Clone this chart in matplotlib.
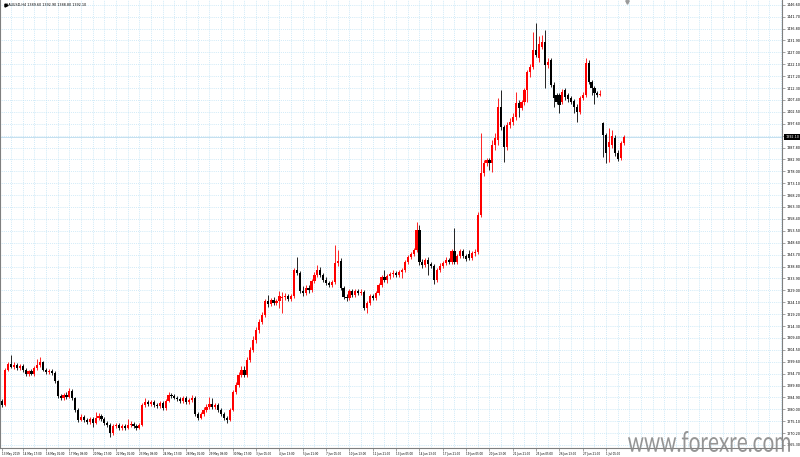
import matplotlib
matplotlib.use("Agg")
import matplotlib.pyplot as plt
import matplotlib.transforms as mtransforms
from matplotlib.textpath import TextPath
from matplotlib.patches import PathPatch
from matplotlib.font_manager import FontProperties
import numpy as np

# XAUUSD H4, 13 May 13:00 .. 2 Jul 05:00 (server time)
opens = [
    1283.4, 1281.8, 1296.2, 1298.6, 1297.4, 1298.2, 1297.0, 1297.8, 1296.2, 1294.5,
    1295.7, 1294.5, 1297.0, 1298.2, 1299.4, 1296.2, 1295.3, 1295.7, 1294.9, 1291.6,
    1285.4, 1284.6, 1285.9, 1285.0, 1287.5, 1284.6, 1279.7, 1275.6, 1276.8, 1275.6,
    1274.7, 1276.0, 1274.3, 1276.4, 1277.2, 1276.0, 1274.3, 1273.5, 1270.2, 1273.1,
    1273.5, 1272.3, 1273.1, 1272.3, 1273.5, 1273.9, 1273.1, 1272.3, 1273.5, 1281.8,
    1283.0, 1282.2, 1283.0, 1281.8, 1281.4, 1282.6, 1280.5, 1283.4, 1285.9, 1285.4,
    1284.6, 1284.2, 1283.4, 1284.6, 1283.0, 1283.8, 1284.6, 1278.0, 1276.4, 1278.0,
    1279.7, 1280.9, 1282.1, 1280.9, 1281.7, 1279.7, 1278.0, 1276.4, 1275.6, 1279.7,
    1287.1, 1290.0, 1294.1, 1296.1, 1294.1, 1300.3, 1304.4, 1308.5, 1312.6, 1315.9,
    1318.8, 1324.5, 1323.3, 1325.0, 1323.7, 1324.5, 1325.8, 1326.2, 1326.6, 1325.4,
    1326.6, 1337.3, 1336.1, 1328.7, 1327.8, 1329.9, 1329.1, 1332.8, 1335.3, 1337.3,
    1335.3, 1333.2, 1332.0, 1331.1, 1332.4, 1340.2, 1341.0, 1329.9, 1326.2, 1325.8,
    1328.7, 1327.0, 1328.7, 1327.8, 1328.3, 1321.7, 1323.7, 1326.6, 1325.8, 1327.8,
    1331.1, 1334.4, 1333.2, 1334.8, 1335.7, 1336.1, 1335.3, 1336.5, 1337.3, 1340.6,
    1342.7, 1343.9, 1345.6, 1353.8, 1340.6, 1339.4, 1341.4, 1339.8, 1339.0, 1333.2,
    1337.3, 1339.0, 1340.2, 1341.4, 1340.6, 1345.2, 1340.6, 1343.1, 1345.2, 1343.1,
    1343.9, 1342.3, 1344.3, 1344.7, 1360.0, 1377.3, 1381.4, 1382.6, 1381.4, 1388.8,
    1390.9, 1404.4, 1396.2, 1388.0, 1397.0, 1398.3, 1400.3, 1406.1, 1404.0, 1406.5,
    1411.4, 1418.9, 1420.9, 1427.9, 1424.6, 1429.2, 1431.2, 1421.7, 1423.8, 1413.5,
    1409.4, 1409.4, 1406.5, 1411.4, 1409.4, 1408.1, 1406.9, 1404.4, 1402.4, 1408.1,
    1409.4, 1422.6, 1414.7, 1412.3, 1410.2, 1409.4, 1397.9, 1392.9, 1388.0, 1388.8,
    1391.7, 1385.5, 1383.4, 1389.6,
]
highs = [
    1284.2, 1297.0, 1299.4, 1302.3, 1299.4, 1299.0, 1298.6, 1298.6, 1297.0, 1296.2,
    1296.6, 1297.8, 1300.7, 1301.5, 1299.9, 1297.0, 1296.6, 1296.6, 1295.7, 1292.0,
    1286.3, 1286.7, 1287.1, 1288.8, 1288.3, 1285.0, 1280.5, 1278.0, 1277.6, 1276.4,
    1276.8, 1276.8, 1278.9, 1278.5, 1278.0, 1276.8, 1275.1, 1274.3, 1273.9, 1274.3,
    1274.3, 1273.9, 1273.9, 1276.0, 1275.1, 1274.7, 1273.9, 1274.3, 1282.6, 1284.6,
    1283.8, 1283.8, 1283.8, 1282.6, 1283.4, 1283.4, 1284.2, 1287.1, 1286.7, 1286.3,
    1285.4, 1285.0, 1285.4, 1285.4, 1284.6, 1285.9, 1285.4, 1278.9, 1278.9, 1280.9,
    1282.1, 1285.0, 1284.6, 1282.5, 1282.5, 1280.5, 1278.9, 1277.2, 1280.5, 1287.9,
    1291.2, 1295.3, 1297.8, 1297.8, 1301.5, 1305.6, 1310.1, 1313.8, 1317.1, 1320.0,
    1325.4, 1327.0, 1325.8, 1326.2, 1325.4, 1328.7, 1328.3, 1327.9, 1327.4, 1327.4,
    1338.1, 1342.7, 1336.9, 1330.7, 1331.1, 1331.1, 1333.6, 1336.5, 1339.4, 1338.5,
    1336.1, 1334.4, 1332.8, 1333.2, 1347.6, 1345.6, 1342.3, 1330.7, 1327.4, 1329.5,
    1329.5, 1329.5, 1329.5, 1329.5, 1329.1, 1324.5, 1327.4, 1327.4, 1328.7, 1332.0,
    1335.3, 1337.3, 1335.7, 1336.5, 1337.3, 1336.9, 1337.3, 1338.1, 1341.4, 1343.5,
    1344.7, 1346.4, 1357.1, 1355.9, 1341.8, 1342.3, 1342.7, 1340.6, 1339.8, 1338.1,
    1340.2, 1341.0, 1342.7, 1342.3, 1346.0, 1354.6, 1343.9, 1346.0, 1346.0, 1343.9,
    1345.6, 1345.2, 1346.0, 1361.2, 1393.7, 1382.6, 1383.5, 1383.5, 1390.9, 1393.7,
    1408.2, 1411.4, 1397.0, 1398.3, 1399.9, 1402.0, 1410.6, 1407.3, 1407.3, 1412.3,
    1419.7, 1422.1, 1435.3, 1439.0, 1433.7, 1434.1, 1436.1, 1424.6, 1424.6, 1414.7,
    1410.2, 1410.2, 1411.9, 1412.3, 1410.2, 1409.0, 1407.7, 1405.7, 1409.0, 1410.6,
    1424.6, 1423.8, 1415.6, 1413.1, 1411.0, 1411.4, 1398.3, 1393.7, 1395.8, 1395.0,
    1392.9, 1386.7, 1390.4, 1392.9,
]
lows = [
    1281.0, 1281.4, 1295.7, 1297.0, 1296.6, 1296.2, 1296.2, 1295.3, 1293.7, 1293.7,
    1294.1, 1293.7, 1296.2, 1297.4, 1295.7, 1294.5, 1294.5, 1294.1, 1290.8, 1284.6,
    1283.8, 1283.8, 1284.2, 1284.6, 1283.8, 1278.9, 1274.7, 1275.1, 1274.7, 1273.9,
    1273.9, 1272.7, 1273.9, 1275.6, 1275.1, 1273.5, 1272.7, 1268.6, 1269.4, 1272.3,
    1271.5, 1271.5, 1271.5, 1271.9, 1272.7, 1272.3, 1271.5, 1271.9, 1273.1, 1281.0,
    1281.4, 1281.4, 1281.0, 1280.5, 1280.5, 1279.7, 1279.7, 1283.0, 1284.6, 1284.2,
    1283.4, 1282.6, 1282.6, 1282.2, 1282.2, 1283.0, 1277.2, 1275.6, 1276.0, 1277.2,
    1278.9, 1280.1, 1280.1, 1280.1, 1278.9, 1277.2, 1275.6, 1274.3, 1275.1, 1279.3,
    1286.3, 1289.1, 1293.3, 1293.3, 1293.3, 1299.4, 1303.5, 1307.3, 1311.4, 1315.1,
    1318.0, 1322.1, 1322.5, 1322.9, 1322.9, 1321.7, 1319.6, 1325.0, 1324.5, 1324.5,
    1325.8, 1335.3, 1327.8, 1326.6, 1327.0, 1327.8, 1328.3, 1332.0, 1334.4, 1334.4,
    1332.4, 1331.1, 1330.3, 1330.3, 1331.6, 1339.0, 1329.1, 1325.4, 1324.5, 1325.0,
    1326.2, 1326.2, 1327.0, 1327.0, 1320.9, 1319.6, 1322.9, 1325.0, 1325.0, 1327.0,
    1330.3, 1332.4, 1332.0, 1333.6, 1334.4, 1334.4, 1334.4, 1334.0, 1336.5, 1339.8,
    1341.8, 1343.1, 1344.7, 1339.4, 1338.1, 1338.5, 1335.3, 1338.1, 1331.6, 1332.4,
    1336.5, 1338.1, 1339.4, 1339.8, 1339.8, 1339.8, 1339.8, 1342.3, 1342.3, 1341.0,
    1341.4, 1341.4, 1343.1, 1343.9, 1359.1, 1376.0, 1380.1, 1378.5, 1377.7, 1386.7,
    1388.8, 1395.0, 1381.8, 1386.7, 1395.8, 1397.0, 1399.1, 1400.3, 1403.2, 1405.3,
    1406.5, 1416.8, 1420.1, 1425.0, 1423.0, 1428.3, 1412.3, 1420.5, 1412.7, 1404.4,
    1405.7, 1402.0, 1405.7, 1407.3, 1406.5, 1405.7, 1402.0, 1398.3, 1401.6, 1407.3,
    1408.6, 1413.9, 1409.4, 1405.7, 1408.6, 1409.0, 1383.9, 1381.4, 1381.8, 1387.6,
    1384.3, 1382.2, 1382.6, 1388.8,
]
closes = [
    1281.8, 1296.2, 1298.6, 1297.4, 1298.2, 1297.0, 1297.8, 1296.2, 1294.5, 1295.7,
    1294.5, 1297.0, 1298.2, 1299.4, 1296.2, 1295.3, 1295.7, 1294.9, 1291.6, 1285.4,
    1284.6, 1285.9, 1285.0, 1287.5, 1284.6, 1279.7, 1275.6, 1276.8, 1275.6, 1274.7,
    1276.0, 1274.3, 1276.4, 1277.2, 1276.0, 1274.3, 1273.5, 1270.2, 1273.1, 1273.5,
    1272.3, 1273.1, 1272.3, 1273.5, 1273.9, 1273.1, 1272.3, 1273.5, 1281.8, 1283.0,
    1282.2, 1283.0, 1281.8, 1281.4, 1282.6, 1280.5, 1283.4, 1285.9, 1285.4, 1284.6,
    1284.2, 1283.4, 1284.6, 1283.0, 1283.8, 1284.6, 1278.0, 1276.4, 1278.0, 1279.7,
    1280.9, 1282.1, 1280.9, 1281.7, 1279.7, 1278.0, 1276.4, 1275.6, 1279.7, 1287.1,
    1290.0, 1294.1, 1296.1, 1294.1, 1300.3, 1304.4, 1308.5, 1312.6, 1315.9, 1318.8,
    1324.5, 1323.3, 1325.0, 1323.7, 1324.5, 1326.6, 1326.2, 1326.6, 1325.4, 1326.6,
    1337.3, 1336.1, 1328.7, 1327.8, 1329.9, 1329.1, 1332.8, 1335.3, 1337.3, 1335.3,
    1333.2, 1332.0, 1331.1, 1332.4, 1340.2, 1341.0, 1329.9, 1326.2, 1325.8, 1328.7,
    1327.0, 1328.7, 1327.8, 1328.3, 1321.7, 1323.7, 1326.6, 1325.8, 1327.8, 1331.1,
    1334.4, 1333.2, 1334.8, 1335.7, 1336.1, 1335.3, 1336.5, 1337.3, 1340.6, 1342.7,
    1343.9, 1345.6, 1353.8, 1340.6, 1339.4, 1341.4, 1339.8, 1339.0, 1333.2, 1337.3,
    1339.0, 1340.2, 1341.4, 1340.6, 1345.2, 1340.6, 1343.1, 1345.2, 1343.1, 1341.8,
    1342.3, 1344.3, 1344.7, 1360.0, 1377.3, 1381.4, 1382.6, 1381.4, 1388.8, 1391.7,
    1404.4, 1396.2, 1388.0, 1397.0, 1398.3, 1400.3, 1406.1, 1404.0, 1406.5, 1411.4,
    1418.9, 1420.9, 1427.9, 1425.9, 1430.4, 1431.2, 1421.7, 1423.0, 1413.5, 1408.1,
    1406.5, 1405.3, 1410.6, 1408.6, 1407.7, 1406.5, 1404.4, 1402.4, 1408.1, 1409.4,
    1422.6, 1414.7, 1412.3, 1410.2, 1409.4, 1409.8, 1392.9, 1385.5, 1390.0, 1392.5,
    1385.5, 1383.0, 1389.6, 1392.1,
]

time_labels = [
    "13 May 2019", "14 May 17:00", "16 May 01:00", "17 May 09:00", "20 May 17:00",
    "22 May 01:00", "23 May 09:00", "24 May 17:00", "28 May 01:00", "29 May 09:00",
    "30 May 17:00", "3 Jun 05:00", "4 Jun 13:00", "5 Jun 21:00", "7 Jun 05:00",
    "10 Jun 13:00", "11 Jun 21:00", "13 Jun 05:00", "14 Jun 13:00", "17 Jun 21:00",
    "19 Jun 05:00", "20 Jun 13:00", "21 Jun 21:00", "25 Jun 05:00", "26 Jun 13:00",
    "27 Jun 21:00", "1 Jul 05:00",
]
label_bars = [0] + [7 + 8 * k for k in range(26)]

price_top = 1446.60
price_step = 4.90
price_ticks = [round(price_top - price_step * k, 2) for k in range(38)]

symbol = "XAUUSD,H4"
watermark = "www.forexre.com"

W, H = 800, 457
bar_px = 2.917
plot_right = 782
plot_bottom = 448

o = np.array(opens)
h = np.array(highs)
l = np.array(lows)
c = np.array(closes)
idx = np.arange(len(c))

fig = plt.figure(figsize=(W / 100, H / 100), dpi=100)
fig.patch.set_facecolor("white")
ax = fig.add_axes([0, (H - plot_bottom) / H, plot_right / W, plot_bottom / H])
ax.set_facecolor("white")

# price scale: 1446.60 sits 4.7 px below the top, 11.9 px per step
px_per_price = 11.9 / price_step
y_top = price_top + 4.7 / px_per_price
y_bot = y_top - plot_bottom / px_per_price
ax.set_ylim(y_bot, y_top)
x0 = -2.3 / bar_px
ax.set_xlim(x0, x0 + plot_right / bar_px)

# grid
grid_col = "#b9e0f4"
for p in price_ticks:
    ax.axhline(p, color=grid_col, lw=0.55, ls=(0, (1, 1.5)), zorder=0)
for gx in range(3, len(c) + 60, 4):
    ax.axvline(gx, color=grid_col, lw=0.55, ls=(0, (1, 1.5)), zorder=0)

# current price line
ax.axhline(c[-1], color="#c4e0f0", lw=0.7, zorder=1)

# candles
up = c >= o
cols = np.where(up, "#ff0000", "#000000")
ax.vlines(idx, l, h, colors=cols, lw=0.6, zorder=2)
body = np.maximum(np.abs(c - o), 0.25)
ax.bar(idx, body, bottom=np.minimum(o, c), width=0.75, color=cols,
       linewidth=0, zorder=3)

# axes frame
ax.spines["top"].set_visible(False)
for side in ("left", "right", "bottom"):
    ax.spines[side].set_color("#7f7f7f")
    ax.spines[side].set_linewidth(0.8)

ax.yaxis.tick_right()
ax.set_yticks(price_ticks)
ax.set_yticklabels([f"{p:.2f}" for p in price_ticks])
ax.tick_params(axis="y", labelsize=2.4, length=2, width=0.5, color="#7f7f7f",
               pad=1.2, labelcolor="black")
ax.set_xticks(label_bars)
ax.set_xticklabels(time_labels)
ax.tick_params(axis="x", labelsize=2.0, length=2, width=0.5, color="#7f7f7f",
               pad=0.8, labelcolor="black")
for lab in ax.get_xticklabels():
    lab.set_horizontalalignment("left")

# current price tag on the scale
tr = mtransforms.blended_transform_factory(ax.transAxes, ax.transData)
ax.text(1.004, c[-1], f"{c[-1]:.2f}", transform=tr, ha="left", va="center",
        fontsize=2.4, color="white", clip_on=False, zorder=5,
        bbox=dict(facecolor="black", edgecolor="none", pad=0.9))

# header line
fig.text(6.5 / W, 1 - 5 / H, f"{symbol} {o[-1]:.2f} {h[-1]:.2f} {l[-1]:.2f} {c[-1]:.2f}",
         fontsize=2.4, ha="left", va="center", color="black")
ax.plot([1.1], [y_top - 5 / px_per_price], marker=">", ms=2.2, color="black",
        clip_on=False)
# chart shift marker
ax.plot([len(c) + 0.2], [y_top - 1.5 / px_per_price], marker="v", ms=2.5,
        color="#9a9a9a", clip_on=False)

# watermark
fp = FontProperties(family=["Lato", "DejaVu Sans"])
tp = TextPath((0, 0), watermark, size=10, prop=fp)
bb = tp.get_extents()
wx0, wx1, wy0, wy1 = 628, 790, H - 452, H - 431
trans = (mtransforms.Affine2D().translate(-bb.x0, -bb.y0)
         .scale((wx1 - wx0) / bb.width, (wy1 - wy0) / bb.height)
         .translate(wx0, wy0))
fig.patches.append(PathPatch(trans.transform_path(tp), facecolor="#8a8a8a",
                             edgecolor="none", alpha=0.9,
                             transform=mtransforms.IdentityTransform(),
                             figure=fig, zorder=10))

fig.savefig("out.png", dpi=100, facecolor="white")
